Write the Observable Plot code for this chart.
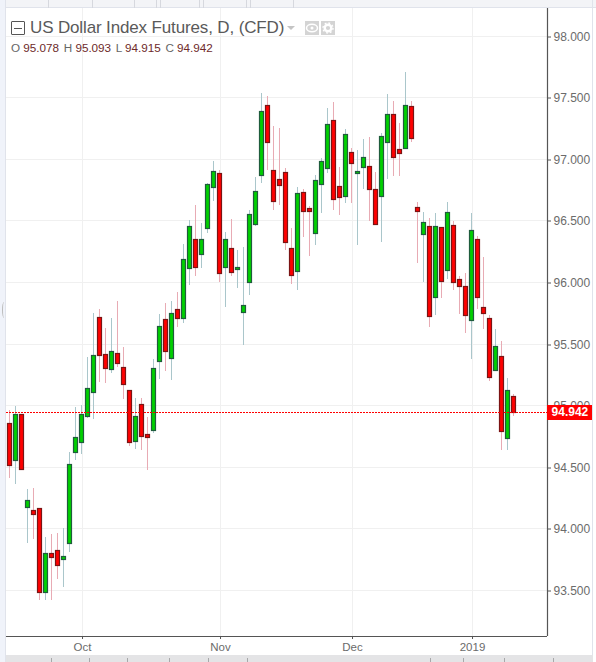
<!DOCTYPE html>
<html>
<head>
<meta charset="utf-8">
<script src="https://cdn.jsdelivr.net/npm/d3@7"></script>
<script src="https://cdn.jsdelivr.net/npm/@observablehq/plot@0.6"></script>
<style>
  html,body{margin:0;padding:0;background:#fff;width:596px;height:662px;overflow:hidden;font-family:"Liberation Sans",Arial,sans-serif}
  #wrap{position:relative;width:596px;height:662px}
  #wrap svg{display:block;position:absolute;left:0;top:0;background:transparent}
  .abs{position:absolute}
  #title{left:30px;top:18px;font:17px "Liberation Sans",Arial,sans-serif;color:#5a5a5a;white-space:nowrap;letter-spacing:-.14px}
  #ohlc{left:11px;top:41px;font:11.7px "Liberation Sans",Arial,sans-serif;color:#666;white-space:nowrap}
  #ohlc b{font-weight:normal;color:#6e2a2a;margin-right:4.6px}
</style>
</head>
<body>
<div id="wrap"></div>
<script>
const barIndex = d3.range(85);
const open = [94.854,94.559,94.927,94.178,94.148,94.164,93.488,93.799,93.823,93.755,93.885,94.624,94.705,94.916,95.111,95.714,95.414,95.298,95.422,95.308,95.122,94.713,95.008,94.765,94.797,95.363,95.698,95.387,95.779,95.711,96.117,96.347,96.225,96.442,96.775,96.883,96.125,96.274,96.109,95.760,95.998,96.474,96.872,97.435,96.907,96.834,96.891,96.274,96.093,96.729,96.599,96.401,96.799,96.929,97.313,96.777,96.702,97.053,96.888,96.937,96.940,96.753,96.702,97.140,97.362,97.078,97.091,97.427,96.607,96.388,96.453,95.876,96.445,96.101,96.461,96.022,95.966,95.690,96.347,95.795,95.706,95.284,95.397,94.732,95.078];
const close = [94.518,94.927,94.486,94.229,94.121,93.488,93.799,93.772,93.707,93.774,94.521,94.740,94.927,95.138,95.406,95.411,95.306,95.438,95.346,95.176,94.705,94.911,94.754,94.746,95.300,95.641,95.444,95.747,95.711,96.185,96.453,96.125,96.347,96.794,96.899,96.077,96.347,96.085,96.120,95.811,96.550,96.737,97.386,97.140,96.661,96.791,96.328,96.060,96.720,96.580,96.580,96.826,96.980,97.281,96.677,96.693,97.199,96.969,96.902,97.013,96.758,96.474,97.183,97.362,97.018,97.051,97.435,97.172,96.574,96.485,95.728,96.453,96.006,96.566,95.998,95.966,95.736,96.420,95.876,95.746,95.227,95.479,94.789,95.121,94.942];
const high = [94.962,94.995,94.927,94.321,94.329,94.164,93.931,93.956,93.964,94.004,94.621,94.986,95.000,95.392,95.749,95.782,95.628,95.709,95.847,95.473,95.122,95.060,95.060,94.905,95.373,95.741,95.828,95.847,95.920,96.309,96.504,96.626,96.480,96.802,96.983,96.910,96.407,96.512,96.261,96.285,96.585,96.853,97.535,97.511,97.267,97.251,96.926,96.439,96.772,96.756,96.618,96.869,97.005,97.413,97.462,96.934,97.243,97.088,97.072,97.161,97.178,96.894,97.210,97.527,97.470,97.291,97.705,97.470,96.650,96.569,96.520,96.561,96.445,96.650,96.493,96.049,96.074,96.561,96.374,96.204,95.733,95.619,95.522,95.222,95.093];
const low = [94.410,94.361,94.486,93.883,93.915,93.420,93.420,93.420,93.590,93.525,93.810,94.556,94.605,94.897,94.889,95.189,95.181,95.262,95.311,95.051,94.670,94.646,94.637,94.475,94.775,95.214,95.279,95.206,95.638,95.665,95.976,96.049,96.114,96.399,96.658,96.001,95.798,96.049,95.952,95.489,95.895,96.455,96.804,96.910,96.585,96.626,96.261,95.985,95.936,96.366,96.212,96.301,96.561,96.886,96.585,96.545,96.642,96.642,96.301,96.756,96.496,96.474,96.325,96.837,96.861,96.861,97.091,97.137,96.155,96.001,95.636,95.733,95.871,96.025,95.936,95.741,95.587,95.376,95.782,95.619,95.197,95.284,94.637,94.637,94.915];
const priceTicks = [93.5,94,94.5,95,95.5,96,96.5,97,97.5,98];
const monthLabels = ["Oct","Nov","Dec","2019"];
const monthBars = [12.17,35.17,57.17,77.17];
const lastPrice = 94.942;

const upFill="#00d000", downFill="#ff0000", upEdge="#1f5c3c", downEdge="#7a1414";
const upWick="#a9c6cb", downWick="#e8aab4";
const gridColor="#f0f0f0", axisColor="#555", textColor="#6b6b6b";
const isUp = i => close[i] >= open[i];
const xMax = 89.667;

const chart = Plot.plot({
  width:596, height:662,
  marginLeft:6, marginRight:49, marginTop:8, marginBottom:26,
  style:{background:"transparent",overflow:"visible"},
  x:{domain:[-0.5,xMax],axis:null},
  y:{domain:[93.127,98.225],axis:null,round:true},
  marks:[
    Plot.ruleY(priceTicks,{stroke:gridColor,strokeWidth:1}),
    Plot.ruleX(monthBars,{stroke:gridColor,strokeWidth:1}),
    Plot.ruleX(barIndex,{x:i=>i,y1:i=>low[i],y2:i=>high[i],stroke:i=>isUp(i)?upWick:downWick,strokeWidth:1}),
    Plot.rect(barIndex,{
      x1:i=>i-0.25,x2:i=>i+0.4167,
      y1:i=>open[i],y2:i=>close[i],
      fill:i=>isUp(i)?upFill:downFill,
      stroke:i=>isUp(i)?upEdge:downEdge,
      strokeWidth:1.2,dy:0.5
    }),
    Plot.ruleY([lastPrice],{stroke:"#ff0000",strokeWidth:1,strokeDasharray:"2,1"}),
    Plot.ruleX([xMax],{stroke:axisColor,strokeWidth:1.2}),
    Plot.ruleY([93.127],{stroke:axisColor,strokeWidth:1.2}),
    Plot.axisY({anchor:"right",ticks:priceTicks,tickFormat:d3.format(".3f"),tickSize:3,tickPadding:3,label:null,stroke:axisColor,fill:textColor,fontSize:12,fontFamily:"Liberation Sans",dy:0.5}),
    Plot.axisX({anchor:"bottom",ticks:monthBars,tickFormat:(d,i)=>monthLabels[i],tickSize:3,tickPadding:3,label:null,stroke:axisColor,fill:textColor,fontSize:11.5,fontFamily:"Liberation Sans"}),
    Plot.rect([lastPrice],{x1:()=>xMax,x2:()=>97.167,y1:d=>d-0.0625,y2:d=>d+0.0625,fill:"#ff0000"}),
    Plot.text([lastPrice],{x:()=>93.4,y:d=>d,text:d=>d.toFixed(3),fill:"#fff",fontWeight:"bold",fontSize:12,fontFamily:"Liberation Sans"})
  ]
});
const wrap=document.getElementById("wrap");

function box(l,t,w,h,css,html){
  const d=document.createElement("div");d.className="abs";
  d.style.cssText=`left:${l}px;top:${t}px;width:${w}px;height:${h}px;${css||""}`;
  if(html)d.innerHTML=html;wrap.appendChild(d);return d;
}
box(0,0,596,8,"background:#f3f4f7;border-bottom:1px solid #e0e3eb;box-sizing:border-box");
box(0,0,5.5,662,"background:#f0f3fa;border-right:1px solid #e0e3eb;box-sizing:border-box");
box(592,0,1,655,"background:#e0e3eb");
box(6,655,587,7,"background:#e4e4e6");
box(1.5,302,3,16,"border-left:1.5px solid #bbb;border-radius:50%");
[48,92,134,156,160,199,203,246,250,293].forEach(x=>box(x,0,1,8,"background:#d6d8de"));
[51,89,127,169,208,247,430,463,504,553].forEach(x=>box(x,658,1,4,"background:#a8a8aa"));
wrap.appendChild(chart);

box(11,21,12,12,"border:1px solid #555;border-radius:1px",'<div style="position:absolute;left:2px;right:2px;top:5.5px;height:1px;background:#555"></div>');
const t=box(30,18,260,20,"");t.id="title";t.style.cssText="";t.className="abs";t.textContent="US Dollar Index Futures, D, (CFD)";
const o=box(11,41,220,14,"");o.id="ohlc";o.style.cssText="";o.className="abs";
o.innerHTML='O <b>95.078</b>H <b>95.093</b>L <b>94.915</b>C <b>94.942</b>';
box(287,26,0,0,"border-left:4px solid transparent;border-right:4px solid transparent;border-top:4px solid #c4c4c4");
box(305,21,14,14,"background:#d4d4d4",'<svg width="14" height="14" style="position:static"><ellipse cx="7" cy="7" rx="5.5" ry="3.8" fill="none" stroke="#fff" stroke-width="1.5"/><circle cx="7" cy="7" r="1.5" fill="#fff"/></svg>');
box(321,21,14,14,"background:#d4d4d4",'<svg width="14" height="14" style="position:static"><circle cx="7" cy="7" r="3.3" fill="none" stroke="#fff" stroke-width="2.4"/><circle cx="7" cy="7" r="5" fill="none" stroke="#fff" stroke-width="1.4" stroke-dasharray="1.8,2.1"/></svg>');
</script>
</body>
</html>
